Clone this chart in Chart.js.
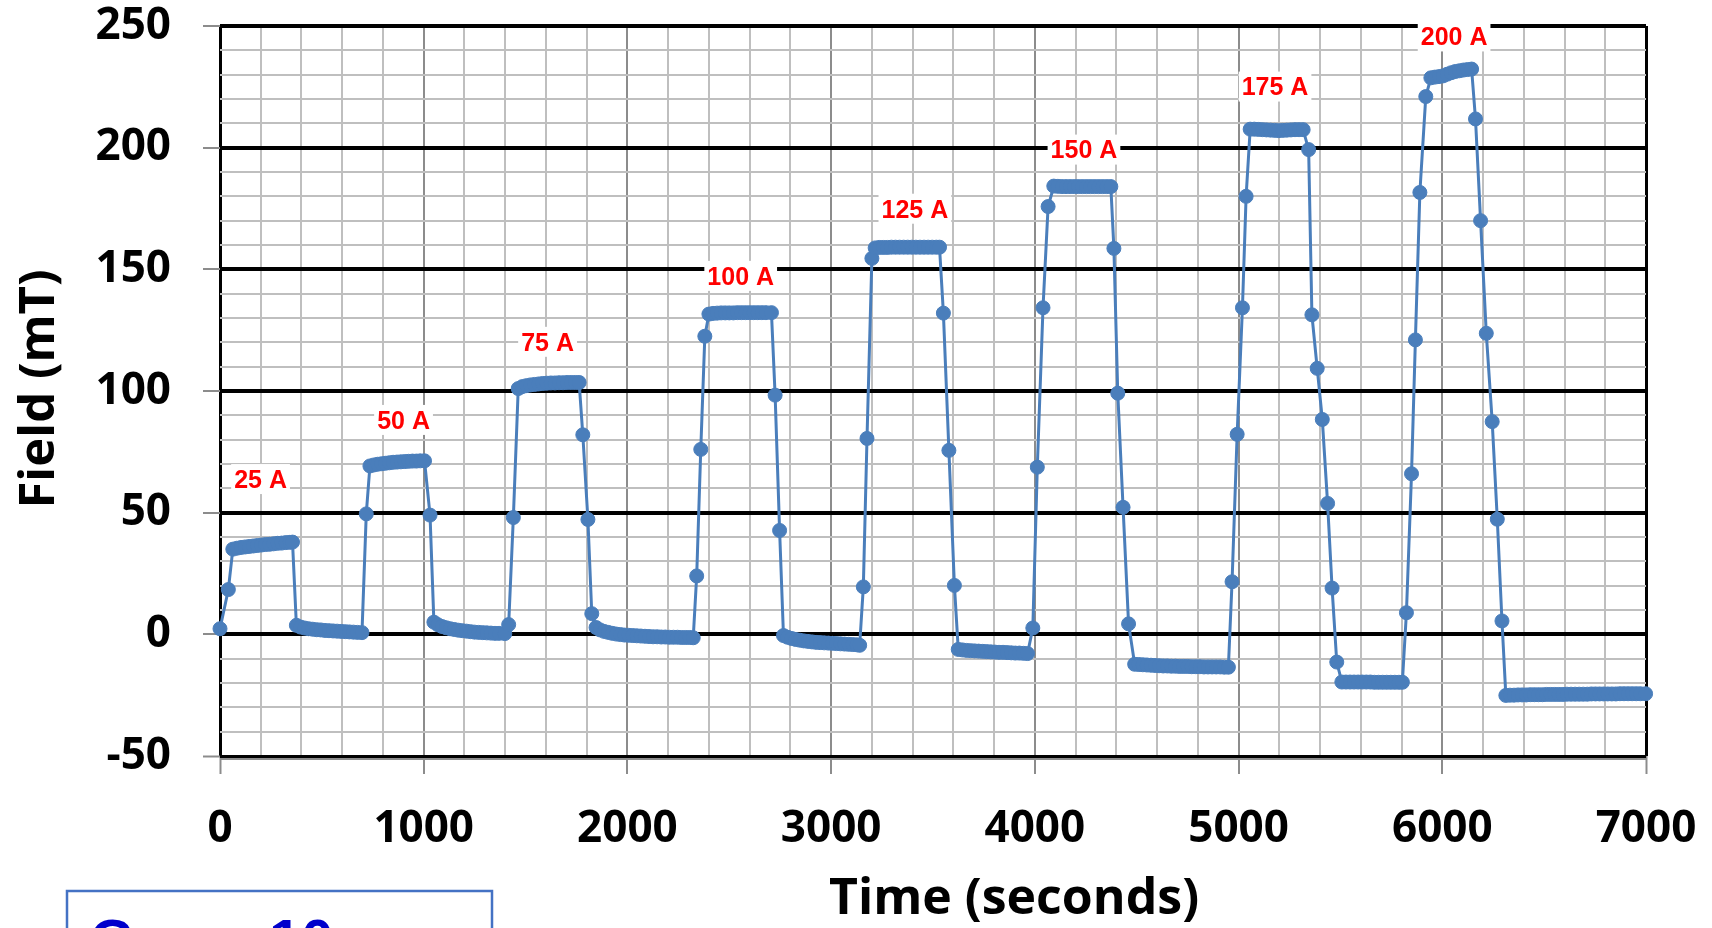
<!DOCTYPE html>
<html>
<head>
<meta charset="utf-8">
<script src="https://cdn.jsdelivr.net/npm/chart.js@4.4.0/dist/chart.umd.min.js"></script>
<style>
html,body{margin:0;padding:0;background:#fff;overflow:hidden}
canvas{display:block}
</style>
</head>
<body>
<canvas id="c" width="1712" height="928" style="width:1712px;height:928px"></canvas>
<script>
// ---- Data (time in seconds, field in mT), one pair of arrays per current step ----
const t25 = [0, 41, 63, 83, 103, 123, 143, 163, 183, 203, 223, 243, 263, 283, 303, 323, 343, 356,
  375, 395, 415, 435, 455, 475, 495, 515, 535, 555, 575, 595, 615, 635, 655, 675, 697];
const b25 = [2.3, 18.4, 35.0, 35.4, 35.7, 35.9, 36.1, 36.3, 36.5, 36.7, 36.9, 37.0, 37.2, 37.4, 37.5, 37.7, 37.8, 37.9,
  3.7, 3.0, 2.6, 2.3, 2.1, 1.9, 1.8, 1.6, 1.5, 1.4, 1.3, 1.2, 1.1, 1.0, 0.9, 0.8, 0.7];

const t50 = [718, 736, 755, 774, 793, 812, 831, 850, 869, 888, 907, 926, 945, 964, 983, 1004, 1031,
  1050, 1070, 1090, 1110, 1130, 1150, 1170, 1190, 1210, 1230, 1250, 1270, 1290, 1310, 1330, 1350, 1370, 1398, 1417, 1440];
const b50 = [49.5, 69.2, 69.6, 69.9, 70.1, 70.3, 70.5, 70.7, 70.8, 70.9, 71.0, 71.1, 71.2, 71.2, 71.3, 71.3, 49.0,
  5.0, 3.9, 3.2, 2.7, 2.3, 2.0, 1.7, 1.5, 1.3, 1.1, 0.9, 0.8, 0.7, 0.6, 0.5, 0.4, 0.4, 0.3, 4.0, 48.0];

const t75 = [1464, 1484, 1504, 1524, 1544, 1564, 1584, 1604, 1624, 1644, 1664, 1684, 1704, 1724, 1744, 1763, 1781, 1806, 1825,
  1846, 1866, 1886, 1906, 1926, 1946, 1966, 1986, 2006, 2026, 2046, 2066, 2086, 2106, 2126, 2146, 2166, 2186, 2206, 2226,
  2246, 2266, 2286, 2306, 2323, 2340, 2360, 2380];
const b75 = [101.0, 101.8, 102.2, 102.5, 102.7, 102.9, 103.1, 103.2, 103.3, 103.3, 103.4, 103.4, 103.5, 103.5, 103.5, 103.5, 82.0, 47.2, 8.5,
  2.8, 1.8, 1.2, 0.8, 0.4, 0.1, -0.1, -0.3, -0.4, -0.5, -0.6, -0.7, -0.8, -0.9, -1.0, -1.0, -1.1, -1.1, -1.2, -1.2,
  -1.2, -1.3, -1.3, -1.3, -1.4, 24.0, 76.0, 122.5];

const t100 = [2400, 2420, 2440, 2460, 2480, 2500, 2520, 2540, 2560, 2580, 2600, 2620, 2640, 2660, 2680, 2707, 2725, 2747,
  2766, 2786, 2806, 2826, 2846, 2866, 2886, 2906, 2926, 2946, 2966, 2986, 3006, 3026, 3046, 3066, 3086, 3106, 3126, 3140,
  3158, 3176, 3200];
const b100 = [131.6, 131.9, 132.0, 132.1, 132.1, 132.1, 132.1, 132.2, 132.2, 132.2, 132.2, 132.2, 132.2, 132.2, 132.2, 132.2, 98.3, 42.7,
  -0.5, -1.2, -1.7, -2.1, -2.4, -2.7, -2.9, -3.1, -3.3, -3.4, -3.5, -3.6, -3.7, -3.8, -3.9, -4.0, -4.1, -4.2, -4.3, -4.5,
  19.5, 80.5, 154.5];

const t125 = [3216, 3236, 3256, 3276, 3296, 3316, 3336, 3356, 3376, 3396, 3416, 3436, 3456, 3476, 3496, 3516, 3532,
  3551, 3578, 3605, 3624, 3644, 3664, 3684, 3704, 3724, 3744, 3764, 3784, 3804, 3824, 3844, 3864, 3884, 3904, 3924, 3944, 3964,
  3990, 4012, 4040, 4065];
const b125 = [158.8, 159.0, 159.0, 159.0, 159.1, 159.1, 159.1, 159.1, 159.1, 159.1, 159.1, 159.1, 159.1, 159.1, 159.1, 159.1, 159.1,
  132.0, 75.6, 20.1, -6.2, -6.4, -6.6, -6.7, -6.8, -6.9, -7.0, -7.1, -7.2, -7.3, -7.4, -7.4, -7.5, -7.6, -7.7, -7.7, -7.8, -7.9,
  2.6, 68.7, 134.2, 175.8];

const t150 = [4093, 4113, 4133, 4153, 4173, 4193, 4213, 4233, 4253, 4273, 4293, 4313, 4333, 4353, 4373, 4388, 4407, 4433, 4460,
  4490, 4510, 4530, 4550, 4570, 4590, 4610, 4630, 4650, 4670, 4690, 4710, 4730, 4750, 4770, 4790, 4810, 4830, 4850, 4870,
  4890, 4910, 4930, 4950, 4968, 4993, 5019, 5037];
const b150 = [184.2, 184.1, 184.0, 184.0, 184.0, 184.0, 184.0, 184.0, 184.0, 184.0, 184.0, 184.0, 184.0, 184.0, 184.0, 158.6, 99.1, 52.2, 4.3,
  -12.3, -12.4, -12.5, -12.6, -12.7, -12.8, -12.9, -13.0, -13.0, -13.1, -13.1, -13.2, -13.2, -13.2, -13.3, -13.3, -13.3, -13.4, -13.4, -13.4,
  -13.4, -13.4, -13.5, -13.5, 21.6, 82.2, 134.2, 180.0];

const t175 = [5057, 5077, 5097, 5117, 5137, 5157, 5177, 5197, 5217, 5237, 5257, 5277, 5297, 5317,
  5344, 5360, 5386, 5411, 5437, 5459, 5482,
  5507, 5527, 5547, 5567, 5587, 5607, 5627, 5647, 5667, 5687, 5707, 5727, 5747, 5767, 5787, 5804,
  5824, 5849, 5868, 5890, 5919];
const b175 = [207.6, 207.6, 207.5, 207.4, 207.3, 207.2, 207.1, 207.0, 207.1, 207.2, 207.3, 207.4, 207.4, 207.4,
  199.2, 131.3, 109.3, 88.3, 53.8, 19.0, -11.4,
  -19.6, -19.6, -19.6, -19.6, -19.6, -19.6, -19.6, -19.6, -19.7, -19.7, -19.7, -19.7, -19.7, -19.7, -19.7, -19.7,
  8.9, 66.0, 121.0, 181.6, 221.0];

const t200 = [5944, 5964, 5984, 6004, 6024, 6044, 6064, 6084, 6104, 6124, 6144,
  6163, 6188, 6216, 6245, 6270, 6293, 6312];
const b200 = [228.7, 229.0, 229.2, 229.5, 230.2, 230.8, 231.3, 231.6, 231.9, 232.1, 232.3,
  211.8, 170.0, 123.7, 87.4, 47.3, 5.5, -25.1];

const tEnd = [6332, 6352, 6372, 6392, 6412, 6432, 6452, 6472, 6492, 6512, 6532, 6552, 6572, 6592, 6612, 6632, 6652,
  6672, 6692, 6712, 6732, 6752, 6772, 6792, 6812, 6832, 6852, 6872, 6892, 6912, 6932, 6952, 6972, 6998];
const bEnd = [-25.0, -25.0, -24.9, -24.9, -24.9, -24.8, -24.8, -24.8, -24.8, -24.7, -24.7, -24.7, -24.7, -24.7, -24.6, -24.6, -24.6,
  -24.6, -24.6, -24.6, -24.5, -24.5, -24.5, -24.5, -24.5, -24.5, -24.5, -24.4, -24.4, -24.4, -24.4, -24.4, -24.4, -24.4];

// current-step annotations (text, time, field)
const stepLabels = ['25 A', '50 A', '75 A', '100 A', '125 A', '150 A', '175 A', '200 A'];
const stepLabelTimes = [199, 901, 1608, 2556, 3411, 4241, 5179, 6058];
const stepLabelFields = [63.4, 87.7, 119.8, 146.9, 174.5, 198.8, 224.7, 245.3];

// axis ticks
const xTickLabels = [0, 1000, 2000, 3000, 4000, 5000, 6000, 7000];
const yTickLabels = [-50, 0, 50, 100, 150, 200, 250];

const xTitle = 'Time (seconds)';
const yTitle = 'Field (mT)';
const boxText = 'Gap = 10 mm';

// ---- build dataset ----
const segTimes = [t25, t50, t75, t100, t125, t150, t175, t200, tEnd];
const segFields = [b25, b50, b75, b100, b125, b150, b175, b200, bEnd];
const points = [];
segTimes.forEach((ts, i) => {
  const n = Math.min(ts.length, segFields[i].length);
  for (let j = 0; j < n; j++) points.push({ x: ts[j], y: segFields[i][j] });
});

const BLUE = '#4A7EBB';
const FONT = "'Open Sans', 'DejaVu Sans', sans-serif";
const ARIAL = "'Liberation Sans', Arial, sans-serif";
const MINOR = '#bfbfbf';
const MAJORV = '#8c8c8c';

const tv = c => (c && c.tick) ? c.tick.value : NaN;

const extras = {
  id: 'extras',
  beforeDatasetsDraw(chart) {
    const { ctx, chartArea: a } = chart;
    ctx.save();
    ctx.strokeStyle = MAJORV;
    ctx.lineWidth = 2;
    ctx.beginPath();
    ctx.moveTo(a.left, a.bottom + 3);
    ctx.lineTo(a.right + 1, a.bottom + 3);
    ctx.stroke();
    ctx.restore();
  },
  afterDatasetsDraw(chart) {
    const { ctx } = chart;
    const xs = chart.scales.x, ys = chart.scales.y;
    ctx.save();
    ctx.font = `bold 25px ${ARIAL}`;
    ctx.textAlign = 'center';
    ctx.textBaseline = 'middle';
    stepLabels.forEach((txt, i) => {
      const px = xs.getPixelForValue(stepLabelTimes[i]);
      const py = ys.getPixelForValue(stepLabelFields[i]);
      const w = ctx.measureText(txt).width;
      ctx.fillStyle = '#ffffff';
      ctx.fillRect(px - w / 2 - 3, py - 16, w + 6, 30);
      ctx.fillStyle = '#ff0000';
      ctx.fillText(txt, px, py + 1);
    });
    ctx.restore();
  },
  afterDraw(chart) {
    const { ctx, chartArea: a } = chart;
    ctx.save();
    // y title
    ctx.fillStyle = '#000';
    ctx.font = `bold 49px ${FONT}`;
    ctx.textAlign = 'center';
    ctx.textBaseline = 'alphabetic';
    ctx.translate(54, (a.top + a.bottom) / 2 - 2);
    ctx.rotate(-Math.PI / 2);
    ctx.fillText(yTitle, 0, 0);
    ctx.restore();
    // x title
    ctx.save();
    ctx.fillStyle = '#000';
    ctx.font = `bold 50px ${FONT}`;
    ctx.textAlign = 'center';
    ctx.textBaseline = 'alphabetic';
    ctx.fillText(xTitle, 1014, 914);
    ctx.restore();
    // boxed note (cut off at the bottom edge)
    ctx.save();
    ctx.fillStyle = '#ffffff';
    ctx.fillRect(67, 891, 425, 60);
    ctx.strokeStyle = '#4472C4';
    ctx.lineWidth = 2.5;
    ctx.strokeRect(67, 891, 425, 60);
    ctx.fillStyle = '#0000CC';
    ctx.font = `bold 58px ${ARIAL}`;
    ctx.textAlign = 'left';
    ctx.textBaseline = 'alphabetic';
    ctx.fillText(boxText, 90, 960);
    ctx.restore();
  }
};

new Chart(document.getElementById('c'), {
  type: 'scatter',
  data: {
    datasets: [{
      data: points,
      showLine: true,
      borderColor: BLUE,
      backgroundColor: BLUE,
      borderWidth: 3,
      pointRadius: 7,
      pointHoverRadius: 7,
      pointBorderWidth: 1,
      pointBorderColor: BLUE,
      tension: 0,
      clip: false
    }]
  },
  options: {
    responsive: false,
    animation: false,
    events: [],
    layout: { padding: { top: 26, right: 66, left: 0, bottom: 0 } },
    plugins: { legend: { display: false }, tooltip: { enabled: false } },
    scales: {
      x: {
        type: 'linear',
        min: 0, max: 7000,
        afterFit: s => { s.height = 172; s.paddingLeft = 0; s.paddingRight = 0; },
        border: { display: false },
        ticks: {
          stepSize: 200,
          maxTicksLimit: 100,
          autoSkip: false,
          maxRotation: 0,
          minRotation: 0,
          padding: 29,
          color: '#000',
          font: { family: FONT, size: 44, weight: 'bold' },
          callback: v => xTickLabels.includes(v) ? String(v) : ''
        },
        grid: {
          color: c => { const v = tv(c); if (v === 0 || v === 7000) return '#000'; return v % 1000 === 0 ? MAJORV : MINOR; },
          lineWidth: c => { const v = tv(c); return (v === 0 || v === 7000) ? 3 : 2; },
          tickColor: c => xTickLabels.includes(tv(c)) ? MAJORV : 'rgba(0,0,0,0)',
          tickLength: 18,
          tickWidth: 2
        }
      },
      y: {
        type: 'linear',
        min: -50, max: 250,
        afterFit: s => { s.width = 220; s.paddingTop = 0; s.paddingBottom = 0; },
        border: { display: false },
        ticks: {
          stepSize: 10,
          maxTicksLimit: 100,
          autoSkip: false,
          padding: 32,
          color: '#000',
          font: { family: FONT, size: 44, weight: 'bold' },
          callback: v => yTickLabels.includes(v) ? String(v) : ''
        },
        grid: {
          color: c => yTickLabels.includes(tv(c)) ? '#000' : MINOR,
          lineWidth: c => { const v = tv(c); if (v === -50) return 3; return yTickLabels.includes(v) ? 4 : 2; },
          tickColor: c => yTickLabels.includes(tv(c)) ? MAJORV : 'rgba(0,0,0,0)',
          tickLength: 17,
          tickWidth: 2
        }
      }
    }
  },
  plugins: [extras]
});
</script>
</body>
</html>
